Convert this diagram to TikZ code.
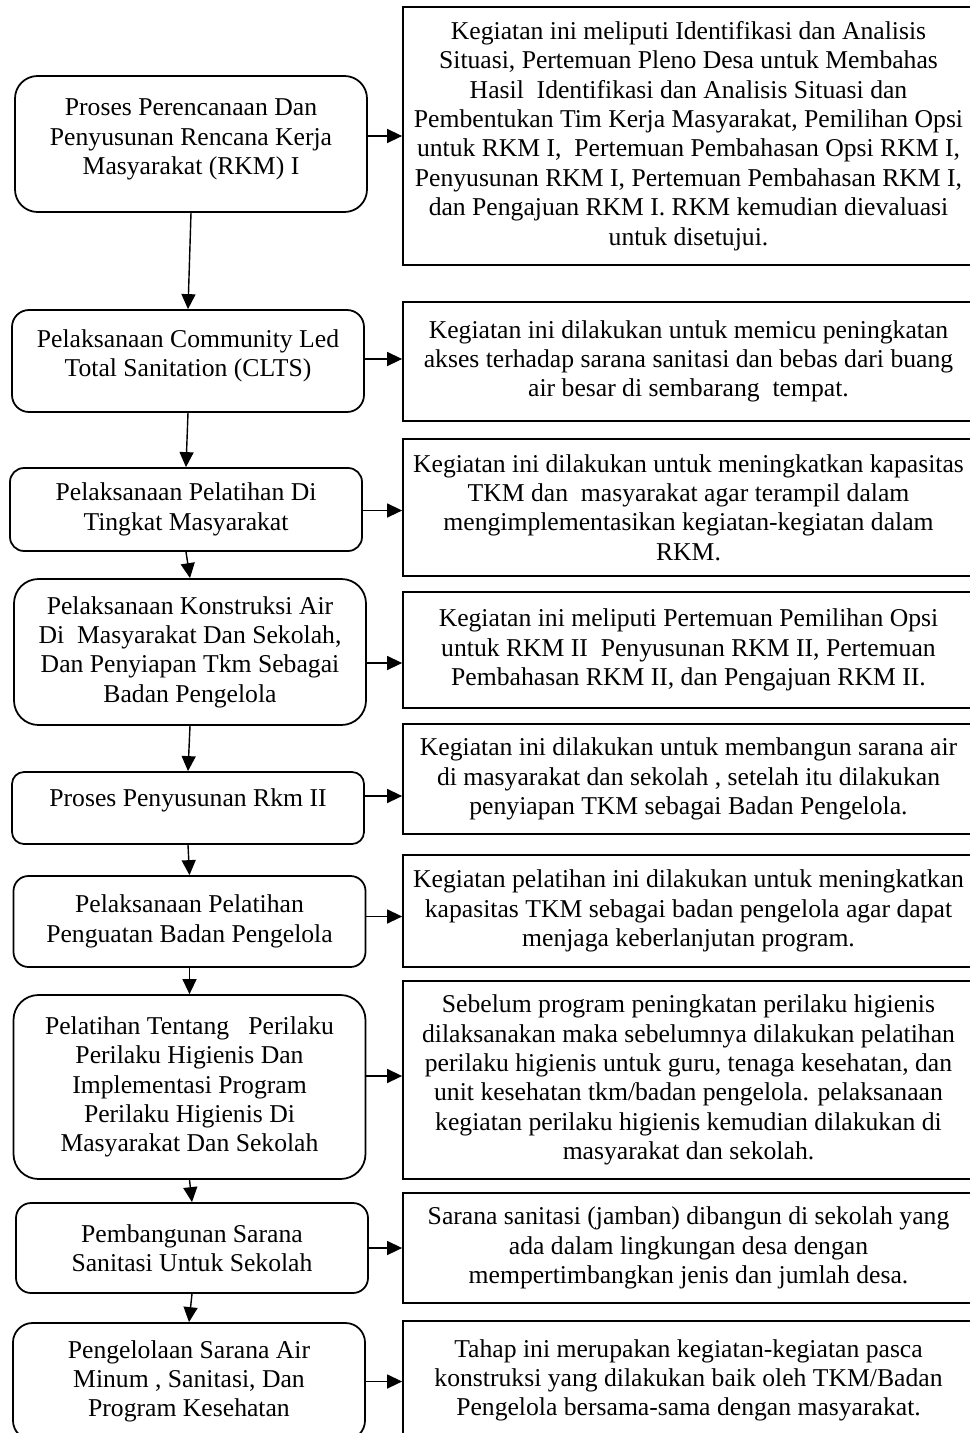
\documentclass[tikz,border=0pt]{standalone}
\usepackage{fontspec}
\setmainfont{Liberation Serif}
\usetikzlibrary{arrows.meta}

\begin{document}
\begin{tikzpicture}[
    font=\fontsize{14.6}{16.7}\selectfont,
    langkah/.style={draw, line width=1pt, rounded corners=#1, minimum width=7.04cm, align=center, inner sep=2pt},
    uraian/.style={draw, line width=1pt, minimum width=11.42cm, align=center, inner sep=2pt},
    panah/.style={line width=0.8pt, -{Triangle[length=0.3cm, width=0.28cm]}}
  ]
  \useasboundingbox (0,0) rectangle (19.4,-28.66);
  \clip (0,0) rectangle (19.4,-28.66);
  % ---------- Tahapan (kiri) ----------
  \node[langkah=0.45cm, minimum height=2.72cm, text depth=0.29cm] (L1) at (3.82,-2.88)
    {Proses Perencanaan Dan\\Penyusunan Rencana Kerja\\Masyarakat (RKM) I};
  \node[langkah=0.34cm, minimum height=2.04cm, text depth=0.31cm] (L2) at (3.76,-7.22)
    {Pelaksanaan Community Led\\Total Sanitation (CLTS)};
  \node[langkah=0.28cm, minimum height=1.66cm] (L3) at (3.72,-10.19)
    {Pelaksanaan Pelatihan Di\\Tingkat Masyarakat};
  \node[langkah=0.49cm, minimum height=2.92cm] (L4) at (3.80,-13.04)
    {Pelaksanaan Konstruksi Air\\Di~ Masyarakat Dan Sekolah,\\Dan Penyiapan Tkm Sebagai\\Badan Pengelola};
  \node[langkah=0.24cm, minimum height=1.44cm, text depth=0.43cm] (L5) at (3.76,-16.16)
    {Proses Penyusunan Rkm II};
  \node[langkah=0.30cm, minimum height=1.82cm] (L6) at (3.79,-18.43)
    {Pelaksanaan Pelatihan\\Penguatan Badan Pengelola};
  \node[langkah=0.50cm, minimum height=3.68cm] (L7) at (3.79,-21.74)
    {Pelatihan Tentang~~ Perilaku\\Perilaku Higienis Dan\\Implementasi Program\\Perilaku Higienis Di\\Masyarakat Dan Sekolah};
  \node[langkah=0.30cm, minimum height=1.80cm] (L8) at (3.84,-24.96)
    {Pembangunan Sarana\\Sanitasi Untuk Sekolah};
  \node[langkah=0.39cm, minimum height=2.34cm] (L9) at (3.78,-27.63)
    {Pengelolaan Sarana Air\\Minum , Sanitasi, Dan\\Program Kesehatan};
  % ---------- Uraian (kanan) ----------
  \node[uraian, minimum height=5.16cm] (R1) at (13.77,-2.72)
    {Kegiatan ini meliputi Identifikasi dan Analisis\\Situasi, Pertemuan Pleno Desa untuk Membahas\\Hasil~ Identifikasi dan Analisis Situasi dan\\Pembentukan Tim Kerja Masyarakat, Pemilihan Opsi\\untuk RKM I,~ Pertemuan Pembahasan Opsi RKM I,\\Penyusunan RKM I, Pertemuan Pembahasan RKM I,\\dan Pengajuan RKM I. RKM kemudian dievaluasi\\untuk disetujui.};
  \node[uraian, minimum height=2.38cm] (R2) at (13.77,-7.23)
    {Kegiatan ini dilakukan untuk memicu peningkatan\\akses terhadap sarana sanitasi dan bebas dari buang\\air besar di sembarang~ tempat.};
  \node[uraian, minimum height=2.74cm] (R3) at (13.77,-10.15)
    {Kegiatan ini dilakukan untuk meningkatkan kapasitas\\TKM dan~ masyarakat agar terampil dalam\\mengimplementasikan kegiatan-kegiatan dalam\\RKM.};
  \node[uraian, minimum height=2.32cm] (R4) at (13.77,-13.00)
    {Kegiatan ini meliputi Pertemuan Pemilihan Opsi\\untuk RKM II~ Penyusunan RKM II, Pertemuan\\Pembahasan RKM II, dan Pengajuan RKM II.};
  \node[uraian, minimum height=2.20cm] (R5) at (13.77,-15.58)
    {Kegiatan ini dilakukan untuk membangun sarana air\\di masyarakat dan sekolah , setelah itu dilakukan\\penyiapan TKM sebagai Badan Pengelola.};
  \node[uraian, minimum height=2.24cm] (R6) at (13.77,-18.22)
    {Kegiatan pelatihan ini dilakukan untuk meningkatkan\\kapasitas TKM sebagai badan pengelola agar dapat\\menjaga keberlanjutan program.};
  \node[uraian, minimum height=3.96cm] (R7) at (13.77,-21.60)
    {Sebelum program peningkatan perilaku higienis\\dilaksanakan maka sebelumnya dilakukan pelatihan\\perilaku higienis untuk guru, tenaga kesehatan, dan\\unit kesehatan tkm/badan pengelola. pelaksanaan\\kegiatan perilaku higienis kemudian dilakukan di\\masyarakat dan sekolah.};
  \node[uraian, minimum height=2.20cm] (R8) at (13.77,-24.96)
    {Sarana sanitasi (jamban) dibangun di sekolah yang\\ada dalam lingkungan desa dengan\\mempertimbangkan jenis dan jumlah desa.};
  \node[uraian, minimum height=2.38cm] (R9) at (13.77,-27.61)
    {Tahap ini merupakan kegiatan-kegiatan pasca\\konstruksi yang dilakukan baik oleh TKM/Badan\\Pengelola bersama-sama dengan masyarakat.};
  % ---------- Panah ke bawah ----------
  \draw[panah] (L1.south) -- (L2.north);
  \draw[panah] (L2.south) -- (L3.north);
  \draw[panah] (L3.south) -- (L4.north);
  \draw[panah] (L4.south) -- (L5.north);
  \draw[panah] (L5.south) -- (L6.north);
  \draw[panah] (L6.south) -- (L7.north);
  \draw[panah] (L7.south) -- (L8.north);
  \draw[panah] (L8.south) -- (L9.north);
  % ---------- Panah ke kanan ----------
  \coordinate (a1) at ([yshift=0.16cm]L1.east);
  \coordinate (a2) at ([yshift=0.04cm]L2.east);
  \coordinate (a3) at ([yshift=-0.02cm]L3.east);
  \coordinate (a4) at ([yshift=-0.22cm]L4.east);
  \coordinate (a5) at ([yshift=0.24cm]L5.east);
  \coordinate (a6) at ([yshift=0.10cm]L6.east);
  \coordinate (a7) at ([yshift=0.22cm]L7.east);
  \coordinate (a8) at (L8.east);
  \coordinate (a9) at (L9.east);
  \draw[panah] (a1) -- (a1 -| R1.west);
  \draw[panah] (a2) -- (a2 -| R2.west);
  \draw[panah] (a3) -- (a3 -| R3.west);
  \draw[panah] (a4) -- (a4 -| R4.west);
  \draw[panah] (a5) -- (a5 -| R5.west);
  \draw[panah] (a6) -- (a6 -| R6.west);
  \draw[panah] (a7) -- (a7 -| R7.west);
  \draw[panah] (a8) -- (a8 -| R8.west);
  \draw[panah] (a9) -- (a9 -| R9.west);
\end{tikzpicture}
\end{document}
